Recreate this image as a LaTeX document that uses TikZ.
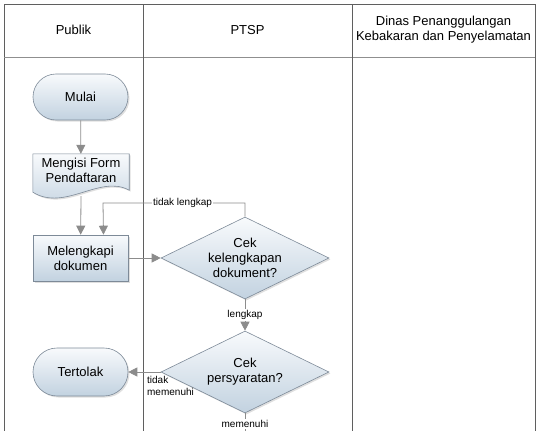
\documentclass[tikz,border=0pt]{standalone}
\usepackage{fontspec}
\setmainfont{Liberation Sans}
\usetikzlibrary{shapes.geometric, arrows.meta, positioning, shadows, backgrounds}
\definecolor{boxline}{RGB}{125,138,152}
\definecolor{boxtop}{RGB}{248,250,252}
\definecolor{boxbot}{RGB}{194,210,224}
\definecolor{flowgray}{RGB}{140,140,140}
\definecolor{lanegray}{RGB}{95,95,95}

\begin{document}
\begin{tikzpicture}[x=1pt, y=-1pt,
  font=\fontsize{13}{15}\selectfont,
  lane/.style={draw=lanegray, line width=0.8pt},
  softshadow/.style={drop shadow={opacity=0.25, shadow xshift=1.5pt, shadow yshift=-1.5pt}},
  box/.style={draw=boxline, line width=0.6pt, top color=boxtop, bottom color=boxbot,
    softshadow, align=center, inner sep=0pt},
  terminal/.style={box, rounded corners=23pt, minimum width=95pt, minimum height=46pt},
  process/.style={box, minimum width=95pt, minimum height=46pt},
  decision/.style={box, diamond, aspect=2, minimum width=168pt, minimum height=82pt},
  flow/.style={draw=flowgray, line width=0.8pt, -{Triangle[length=9pt, width=9pt]}},
  lbl/.style={fill=white, inner sep=1.5pt, font=\fontsize{10}{12}\selectfont}
]
\useasboundingbox (0,0) rectangle (539,431);

% swimlanes
\draw[lane] (4,440) -- (4,4) -- (535,4) -- (535,440);
\draw[lane, draw=lanegray!70] (4,57) -- (535,57);
\draw[lane] (143,4) -- (143,440);
\draw[lane] (352,4) -- (352,440);
\node (hpublik) at (73.5,30) {Publik};
\node (hptsp) at (247.5,30) {PTSP};
\node[align=center] (hdinas) at (443.5,30) {Dinas Penanggulangan\\Kebakaran dan Penyelamatan};

% nodes
\node[terminal] (mulai) at (80.5,97) {Mulai};
\node[align=center, minimum width=96pt, minimum height=32pt, inner sep=0pt] (form) at (81,170)
  {Mengisi Form\\Pendaftaran};
\node[process] (lengkapi) at (80.5,258) {Melengkapi\\dokumen};
\node[decision] (cek1) at (245,258) {Cek\\kelengkapan\\dokument?};
\node[decision] (cek2) at (245,372) {Cek\\persyaratan?};
\node[terminal, minimum height=48pt, rounded corners=24pt] (tolak) at (80.5,372) {Tertolak};
\coordinate (lanjut) at (245,445);

% document shape behind the form text
\begin{scope}[on background layer]
\path[box] (form.north west) -- (form.north east) -- ([yshift=-4pt]form.south east)
  .. controls (100,174) and (65,212) .. ([yshift=-6pt]form.south west) -- cycle;
\end{scope}

% connectors
\draw[flow] (mulai) -- (form);
\draw[flow] ([yshift=-10pt]form.south) -- (lengkapi);
\draw[flow] (lengkapi) -- (cek1);
\draw[flow] (cek1.north) |- node[lbl, pos=0.72] {tidak lengkap} (103,203) -- ([xshift=23pt]lengkapi.north);
\draw[flow] (cek1.south) -- node[lbl] {lengkap} (cek2.north);
\draw[flow] (cek2.west) -- node[lbl, fill=none, pos=0.43, anchor=north west, yshift=-4pt, align=left,
  inner sep=0pt] {tidak\\memenuhi} (tolak.east);
\draw[draw=flowgray, line width=0.8pt] (cek2.south) -- node[lbl, pos=0.33] {memenuhi} (lanjut);
\end{tikzpicture}
\end{document}
